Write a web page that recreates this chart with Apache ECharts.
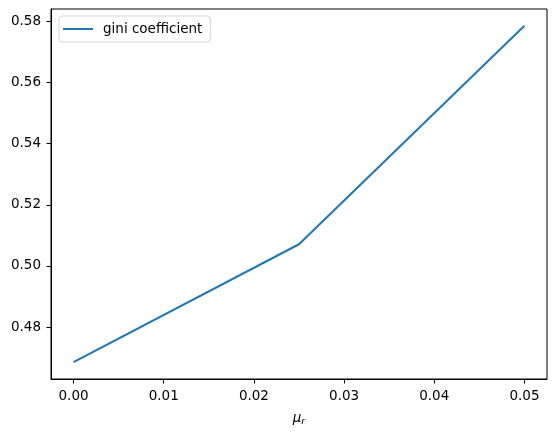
<!DOCTYPE html>
<html>
<head>
<meta charset="utf-8">
<script src="https://cdn.jsdelivr.net/npm/echarts@6/dist/echarts.min.js"></script>
<style>html,body{margin:0;padding:0;background:#fff}#c{width:556px;height:433px}</style>
</head>
<body>
<div id="c"></div>
<script>
const muR = [0.0, 0.025, 0.05];
const gini = [0.4685, 0.5071, 0.5786];
const xTicks = [0.00, 0.01, 0.02, 0.03, 0.04, 0.05];
const yTicks = [0.48, 0.50, 0.52, 0.54, 0.56, 0.58];
const seriesName = 'gini coefficient';

const font = 'DejaVu Sans';
const fs = 13.5;
const chart = echarts.init(document.getElementById('c'), null, {renderer: 'canvas'});
chart.setOption({
  animation: false,
  backgroundColor: '#fff',
  textStyle: {fontFamily: font},
  grid: {left: 51, right: 9, top: 9, bottom: 54, show: true, borderColor: '#000', borderWidth: 1, backgroundColor: 'transparent'},
  legend: {
    show: true, left: 59, top: 16, orient: 'vertical',
    data: [{name: seriesName, icon: 'rect'}],
    itemWidth: 30, itemHeight: 2,
    padding: [6, 8, 6, 4],
    borderColor: '#d5d5d5', borderWidth: 1, borderRadius: 3,
    backgroundColor: 'rgba(255,255,255,0.8)',
    textStyle: {fontFamily: font, fontSize: fs, color: '#000', padding: [0, 0, 0, 5]}
  },
  xAxis: {
    type: 'value', min: -0.0025, max: 0.0525,
    name: '{mu|μ}{sub|r}', nameLocation: 'middle', nameGap: 31,
    nameTextStyle: {rich: {
      mu: {fontFamily: font, fontSize: fs, fontStyle: 'italic', color: '#000'},
      sub: {fontFamily: font, fontSize: 9.5, fontStyle: 'italic', color: '#000', padding: [7, 0, 0, 0]}
    }},
    axisLine: {show: true, onZero: false, lineStyle: {color: '#000', width: 1}},
    axisTick: {show: true, inside: false, length: 4.5, lineStyle: {color: '#000', width: 1}, customValues: xTicks},
    axisLabel: {show: true, customValues: xTicks, fontFamily: font, fontSize: fs, color: '#000', margin: 10,
      formatter: v => v.toFixed(2)},
    splitLine: {show: false}
  },
  yAxis: {
    type: 'value', min: 0.4630, max: 0.5841,
    axisLine: {show: true, onZero: false, lineStyle: {color: '#000', width: 1}},
    axisTick: {show: true, inside: false, length: 4.5, lineStyle: {color: '#000', width: 1}, customValues: yTicks},
    axisLabel: {show: true, customValues: yTicks, fontFamily: font, fontSize: fs, color: '#000', margin: 10,
      formatter: v => v.toFixed(2)},
    splitLine: {show: false}
  },
  series: [{
    name: seriesName, type: 'line',
    data: muR.map((x, i) => [x, gini[i]]),
    symbol: 'none', showSymbol: false,
    lineStyle: {color: '#1f77b4', width: 2},
    itemStyle: {color: '#1f77b4'}
  }]
});
</script>
</body>
</html>
